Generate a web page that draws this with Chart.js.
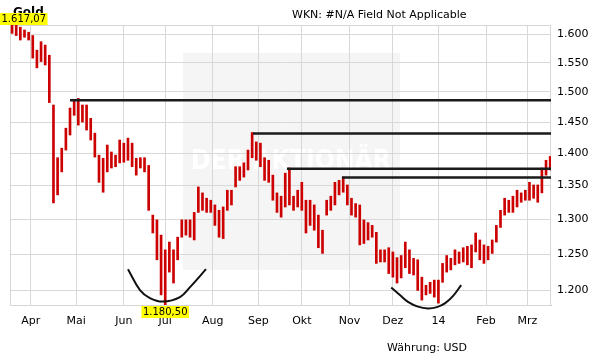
<!DOCTYPE html>
<html>
<head>
<meta charset="utf-8">
<script src="https://cdn.jsdelivr.net/npm/chart.js@4"></script>
<style>
  html, body { margin: 0; padding: 0; background: #fff; }
</style>
</head>
<body>
<canvas id="goldChart" width="611" height="364"></canvas>
<script>
// daily range of gold, one bar per two trading days (trading day 0 = 18 Mar 2013)
const highs = [
  1617.07, 1617, 1613, 1608, 1604, 1598, 1572, 1587, 1581, 1563,
  1478, 1393, 1408, 1440, 1473, 1486, 1489, 1478, 1478, 1456,
  1432, 1397, 1392, 1413, 1402, 1397, 1421, 1416, 1424, 1416,
  1392, 1393, 1393, 1381, 1306, 1299, 1277, 1256, 1267, 1256,
  1274, 1299, 1299, 1299, 1310, 1348, 1339, 1331, 1328, 1321,
  1313, 1318, 1343, 1343, 1379, 1379, 1385, 1405, 1433, 1418,
  1416, 1393, 1389, 1366, 1339, 1334, 1369, 1377, 1334, 1343,
  1355, 1328, 1328, 1321, 1306, 1284, 1328, 1334, 1355, 1358,
  1363, 1351, 1331, 1323, 1321, 1299, 1295, 1291, 1281, 1256,
  1256, 1259, 1253, 1245, 1248, 1267, 1256, 1244, 1242, 1218,
  1207, 1211, 1214, 1214, 1237, 1248, 1244, 1256, 1253, 1259,
  1261, 1263, 1280, 1270, 1263, 1261, 1270, 1291, 1313, 1331,
  1328, 1334, 1343, 1339, 1343, 1355, 1351, 1351, 1377, 1389,
  1395
];
const lows = [
  1602, 1598, 1590, 1595, 1590, 1558, 1541, 1552, 1546, 1482,
  1324, 1336, 1371, 1405, 1429, 1461, 1445, 1450, 1437, 1421,
  1394, 1355, 1340, 1371, 1377, 1379, 1385, 1386, 1389, 1379,
  1366, 1377, 1371, 1313, 1280, 1242, 1194, 1180.5, 1225, 1210,
  1242, 1274, 1277, 1274, 1270, 1310, 1313, 1310, 1310, 1291,
  1274, 1272, 1313, 1321, 1348, 1358, 1363, 1374, 1393, 1389,
  1379, 1358, 1355, 1328, 1310, 1303, 1318, 1321, 1313, 1318,
  1313, 1280, 1291, 1284, 1259, 1251, 1306, 1313, 1321, 1336,
  1340, 1321, 1306, 1303, 1263, 1265, 1270, 1274, 1237, 1239,
  1239, 1223, 1218, 1210, 1217, 1231, 1223, 1221, 1200, 1187,
  1194, 1196, 1191, 1183, 1211, 1225, 1228, 1235, 1237, 1239,
  1235, 1231, 1253, 1242, 1237, 1242, 1251, 1267, 1288, 1306,
  1310, 1310, 1318, 1325, 1328, 1328, 1331, 1325, 1339, 1366,
  1374
];

const monthStarts = [10, 32, 55, 75, 98, 120, 141, 164, 185, 207, 230, 250];
const monthLabels = ['Apr', 'Mai', 'Jun', 'Jul', 'Aug', 'Sep', 'Okt', 'Nov', 'Dez', '14', 'Feb', 'Mrz'];
const lastDay = 261.4;

const yTicks = [1200, 1250, 1300, 1350, 1400, 1450, 1500, 1550, 1600];

// resistance lines: first trading day and level
const levelStarts = [29, 117.4, 133.8, 160.4];
const levelValues = [1486, 1431.5, 1375.7, 1362.5];

// the two drawn bowls
const bowl1Days = [57, 62.8, 67.6, 73.9, 82.1, 87, 94.7];
const bowl1Values = [1229, 1200.4, 1189.7, 1185, 1191, 1204.5, 1229];
const bowl2Days = [184.2, 188.4, 192.3, 197.1, 201.9, 206.3, 210.1, 214, 218];
const bowl2Values = [1204, 1193.7, 1184.7, 1178.3, 1176, 1177.7, 1182.6, 1192.3, 1207.2];

const bars = highs.map((h, k) => ({ x: 2 * k + 1, y: [lows[k], h] }));

const yMin = Math.min(...lows);
const yMax = Math.max(...highs);
const minAt = lows.indexOf(yMin);
const maxAt = highs.indexOf(yMax);

function deNumber(v, digits) {
  const parts = v.toFixed(digits).split('.');
  const whole = parts[0].replace(/\B(?=(\d{3})+(?!\d))/g, '.');
  return parts[1] ? whole + ',' + parts[1] : whole;
}

function drawTag(ctx, text, cx, top) {
  ctx.font = '10px "DejaVu Sans"';
  const w = ctx.measureText(text).width + 3;
  const left = Math.max(0, cx - w / 2);
  ctx.fillStyle = '#ffff00';
  ctx.fillRect(left, top, w, 12);
  ctx.fillStyle = '#000';
  ctx.textBaseline = 'middle';
  ctx.textAlign = 'left';
  ctx.fillText(text, left + 1.5, top + 6.5);
}

const decorations = {
  id: 'decorations',
  beforeDraw(chart) {
    const ctx = chart.ctx;
    ctx.save();
    ctx.fillStyle = '#f5f5f5';
    ctx.fillRect(183, 53, 217, 217);
    ctx.fillStyle = '#fff';
    ctx.font = 'bold 27px "DejaVu Sans Condensed", "DejaVu Sans"';
    ctx.textBaseline = 'middle';
    ctx.fillText('DER AKTIONÄR', 191, 162, 200);
    ctx.restore();
  },
  beforeDatasetsDraw(chart) {
    const { ctx, chartArea: a } = chart;
    ctx.save();
    ctx.strokeStyle = '#d6d6d6';
    ctx.lineWidth = 1;
    ctx.strokeRect(a.left + 0.5, a.top + 0.5, a.right - a.left - 1, a.bottom - a.top);
    ctx.restore();
  },
  afterDraw(chart) {
    const ctx = chart.ctx;
    const xs = chart.scales.x, ys = chart.scales.y;
    ctx.save();
    ctx.fillStyle = '#000';
    ctx.textBaseline = 'alphabetic';
    ctx.font = 'bold 12px "DejaVu Sans"';
    ctx.fillText('Gold', 13, 16);
    ctx.font = '11px "DejaVu Sans"';
    ctx.fillText('WKN: #N/A Field Not Applicable', 292, 18);
    ctx.fillText('Währung: USD', 387, 351);

    drawTag(ctx, deNumber(yMax, 2), xs.getPixelForValue(2 * maxAt + 1), ys.getPixelForValue(yMax) - 12);
    drawTag(ctx, deNumber(yMin, 2), xs.getPixelForValue(2 * minAt + 1), ys.getPixelForValue(yMin) + 1);
    ctx.restore();
  }
};

Chart.defaults.font.family = '"DejaVu Sans", Verdana, sans-serif';
Chart.defaults.font.size = 11;
Chart.defaults.color = '#000';

const datasets = [{
  type: 'bar',
  data: bars,
  backgroundColor: '#cc0000',
  barThickness: 2,
  order: 2
}];

levelValues.forEach((v, n) => {
  datasets.push({
    type: 'line',
    data: [{ x: levelStarts[n], y: v }, { x: lastDay, y: v }],
    borderColor: '#1a1a1a',
    borderWidth: 2.5,
    pointRadius: 0,
    order: 1
  });
});

[[bowl1Days, bowl1Values], [bowl2Days, bowl2Values]].forEach(([days, vals]) => {
  datasets.push({
    type: 'line',
    data: days.map((d, n) => ({ x: d, y: vals[n] })),
    borderColor: '#111',
    borderWidth: 2,
    pointRadius: 0,
    tension: 0.4,
    clip: false,
    order: 1
  });
});

new Chart(document.getElementById('goldChart'), {
  type: 'bar',
  data: { datasets },
  options: {
    responsive: false,
    animation: false,
    layout: { padding: { top: 25, left: 10, right: 0, bottom: 0 } },
    plugins: { legend: { display: false }, tooltip: { enabled: false } },
    scales: {
      x: {
        type: 'linear',
        min: 0,
        max: lastDay,
        offset: false,
        afterBuildTicks: s => { s.ticks = monthStarts.map(v => ({ value: v })); },
        afterFit: s => { s.height = 59; },
        grid: { color: '#d8d8d8', drawTicks: false, offset: false },
        border: { color: '#c4c4c4' },
        ticks: {
          autoSkip: false,
          maxRotation: 0,
          padding: 10,
          callback: v => monthLabels[monthStarts.indexOf(v)] ?? ''
        }
      },
      y: {
        type: 'logarithmic',
        position: 'right',
        min: yMin,
        max: yMax,
        afterBuildTicks: s => { s.ticks = yTicks.map(v => ({ value: v })); },
        afterFit: s => { s.width = 60; },
        grid: { color: '#d8d8d8', drawTicks: false },
        border: { display: false },
        ticks: {
          padding: 6,
          callback: v => deNumber(v, 0)
        }
      }
    }
  },
  plugins: [decorations]
});
</script>
</body>
</html>
